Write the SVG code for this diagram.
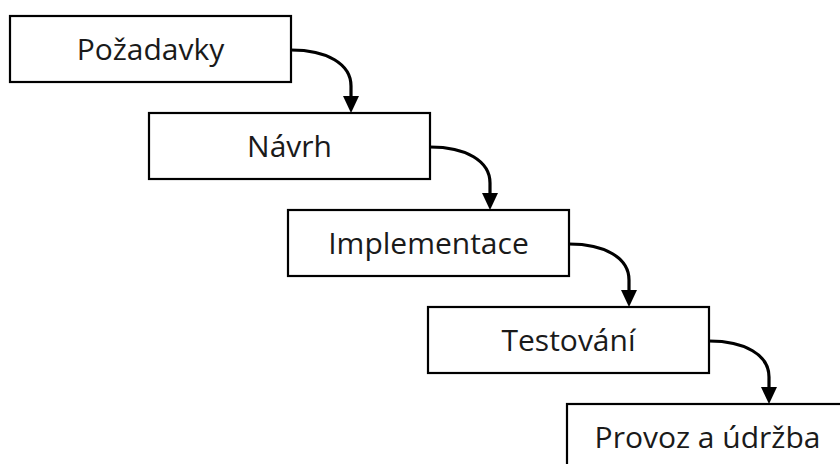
<svg xmlns="http://www.w3.org/2000/svg" width="840" height="464" viewBox="0 0 840 464">
<style>
.box{fill:#fff;stroke:#000;stroke-width:2.2}
.lbl{font-family:"Open Sans","Liberation Sans",sans-serif;font-size:30px;fill:#1a1a1a;text-anchor:middle}
.con{fill:none;stroke:#000;stroke-width:3.2}
.head{fill:#000}
</style>
<rect width="840" height="464" fill="#fff"/>
<g id="connectors">
<path class="con" d="M291,50 C327,50 351,64 351,86 L351,97"/>
<polygon class="head" points="343,96 359,96 351,113"/>
<path class="con" d="M430,147 C466,147 490,161 490,183 L490,194"/>
<polygon class="head" points="482,193 498,193 490,210"/>
<path class="con" d="M569,244 C605,244 629,258 629,280 L629,291"/>
<polygon class="head" points="621,290 637,290 629,307"/>
<path class="con" d="M709,341 C745,341 769,355 769,377 L769,388"/>
<polygon class="head" points="761,387 777,387 769,404"/>
</g>
<g id="n1"><rect class="box" x="10" y="16" width="281" height="66"/><text class="lbl" x="150.5" y="60">Požadavky</text></g>
<g id="n2"><rect class="box" x="149" y="113" width="281" height="66"/><text class="lbl" x="289.5" y="157">Návrh</text></g>
<g id="n3"><rect class="box" x="288" y="210" width="281" height="66"/><text class="lbl" x="428.5" y="254">Implementace</text></g>
<g id="n4"><rect class="box" x="428" y="307" width="281" height="66"/><text class="lbl" x="568.5" y="351">Testování</text></g>
<g id="n5"><rect class="box" x="567" y="404" width="281" height="66"/><text class="lbl" x="707.5" y="448">Provoz a údržba</text></g>
</svg>
